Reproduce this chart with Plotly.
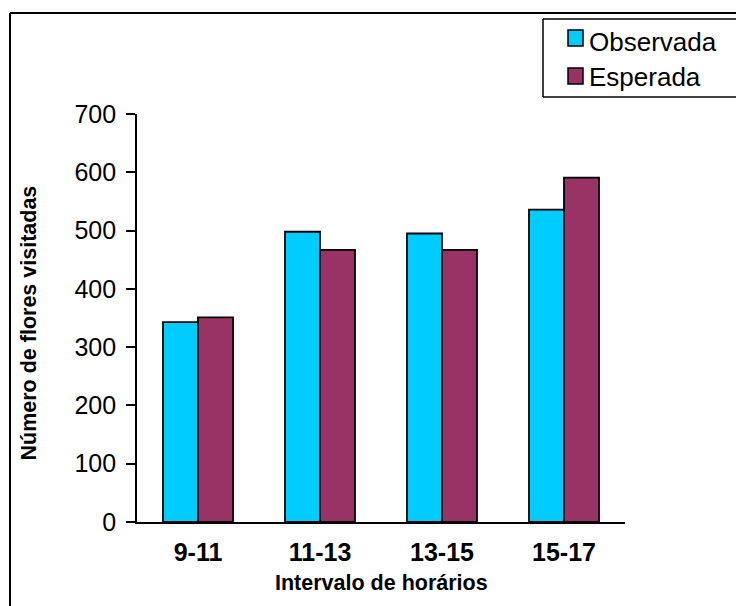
import plotly.graph_objects as go

# Data
intervalos = ["9-11", "11-13", "13-15", "15-17"]
observada = [343, 498, 495, 536]
esperada = [351, 467, 467, 591]
y_ticks = [0, 100, 200, 300, 400, 500, 600, 700]

W, H = 736, 606
L, R, T, B = 137, 111, 114, 84
PW, PH = W - L - R, H - T - B

def fx(px):
    return (px - L) / PW

def fy(py):
    return (H - B - py) / PH

COL_OBS = "#00CCFF"
COL_ESP = "#993366"
FONT = "Liberation Sans, Arial, sans-serif"

fig = go.Figure()
fig.add_trace(go.Bar(x=intervalos, y=observada, name="Observada",
                     marker=dict(color=COL_OBS, line=dict(color="black", width=1.8))))
fig.add_trace(go.Bar(x=intervalos, y=esperada, name="Esperada",
                     marker=dict(color=COL_ESP, line=dict(color="black", width=1.8))))

def hline(x0, x1, y, w):
    return dict(type="line", xref="paper", yref="paper",
                x0=fx(x0), x1=fx(x1), y0=fy(y), y1=fy(y),
                line=dict(color="black", width=w))

def vline(x, y0, y1, w):
    return dict(type="line", xref="paper", yref="paper",
                x0=fx(x), x1=fx(x), y0=fy(y0), y1=fy(y1),
                line=dict(color="black", width=w))

shapes = [
    # outer frame (top and left edges run off the page)
    hline(10, 740, 13, 2),
    vline(10, 13, 610, 2),
    # legend box, open at the page edge
    hline(543, 740, 19, 1.5),
    hline(543, 740, 97, 1.5),
    vline(543, 19, 97, 1.5),
    dict(type="rect", xref="paper", yref="paper",
         x0=fx(568), x1=fx(583), y0=fy(30), y1=fy(46),
         line=dict(color="black", width=1.5), fillcolor=COL_OBS),
    dict(type="rect", xref="paper", yref="paper",
         x0=fx(568), x1=fx(583), y0=fy(68), y1=fy(84),
         line=dict(color="black", width=1.5), fillcolor=COL_ESP),
]

annotations = [
    dict(text="Observada", xref="paper", yref="paper", x=fx(587), y=fy(42),
         xanchor="left", yanchor="middle", showarrow=False,
         font=dict(family=FONT, size=26, color="black")),
    dict(text="Esperada", xref="paper", yref="paper", x=fx(587), y=fy(77),
         xanchor="left", yanchor="middle", showarrow=False,
         font=dict(family=FONT, size=26, color="black")),
    dict(text="<b>Intervalo de horários</b>", xref="paper", yref="paper",
         x=0.5, y=fy(583), xanchor="center", yanchor="middle", showarrow=False,
         font=dict(family=FONT, size=21.5, color="black")),
    dict(text="<b>Número de flores visitadas</b>", xref="paper", yref="paper",
         x=fx(28), y=fy(463), xanchor="center", yanchor="bottom", textangle=-90,
         showarrow=False, font=dict(family=FONT, size=21.5, color="black")),
]

fig.update_layout(
    width=W, height=H,
    margin=dict(l=L, r=R, t=T, b=B, pad=0),
    paper_bgcolor="white", plot_bgcolor="white",
    barmode="group", bargap=0.426, bargroupgap=0,
    showlegend=False,
    shapes=shapes, annotations=annotations,
    font=dict(family=FONT, color="black"),
)
fig.update_xaxes(
    showline=True, linecolor="black", linewidth=1.8,
    showgrid=False, ticks="", zeroline=False,
    tickfont=dict(family=FONT, size=25, color="black", weight="bold"),
    ticklabelstandoff=7,
)
fig.update_yaxes(
    range=[0, 700], tickvals=y_ticks, showline=True, linecolor="black",
    linewidth=1.8, showgrid=False, zeroline=False,
    ticks="outside", ticklen=9, tickwidth=1.8, tickcolor="black",
    tickfont=dict(family=FONT, size=25, color="black"),
    ticklabelstandoff=5,
)

fig.write_html("out.html")
